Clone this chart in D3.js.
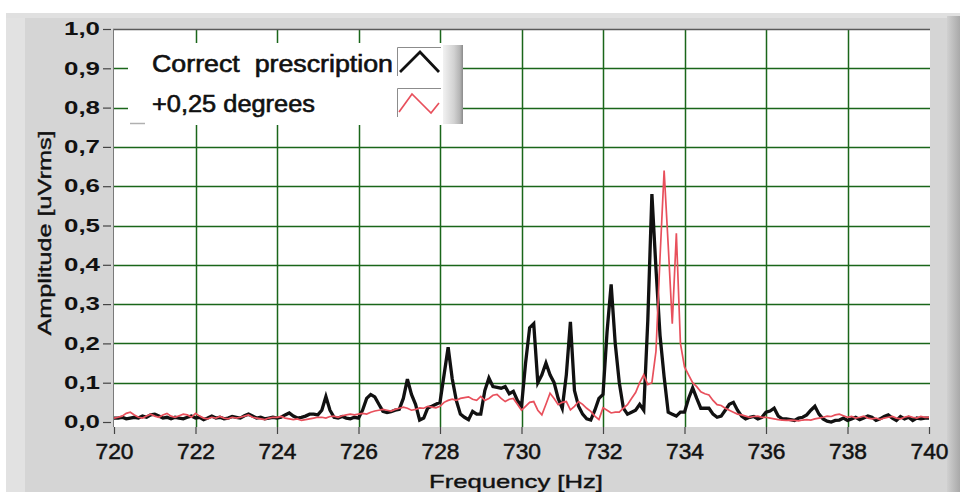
<!DOCTYPE html>
<html>
<head>
<meta charset="utf-8">
<script src="https://cdn.jsdelivr.net/npm/d3@7"></script>
<style>
  html, body { margin: 0; padding: 0; background: #ffffff; }
  svg { display: block; }
  text { font-family: "Liberation Sans", Arial, sans-serif; fill: #111; }
</style>
</head>
<body>
<svg id="chart" width="960" height="492"></svg>
<script>
// ---------------- DATA ----------------
const freqStart = 720;          // Hz, first sample
const freqStep = 0.1;           // Hz between samples
const seriesNames = ["Correct  prescription", "+0,25 degrees"];

// Amplitude [uVrms], one value per 0.1 Hz from 720.0 to 740.0
const correctPrescription = [
  0.01,0.01,0.012,0.008,0.01,0.012,0.01,0.015,0.012,0.018,
  0.02,0.015,0.01,0.012,0.008,0.012,0.01,0.008,0.012,0.015,
  0.01,0.012,0.006,0.01,0.015,0.01,0.012,0.008,0.01,0.014,
  0.012,0.01,0.016,0.02,0.015,0.01,0.012,0.008,0.01,0.012,
  0.01,0.012,0.018,0.023,0.015,0.01,0.012,0.015,0.02,0.02,
  0.018,0.03,0.065,0.03,0.012,0.01,0.014,0.01,0.008,0.012,
  0.01,0.03,0.06,0.07,0.064,0.045,0.027,0.024,0.026,0.03,
  0.032,0.06,0.109,0.07,0.045,0.005,0.01,0.036,0.04,0.045,
  0.05,0.12,0.19,0.11,0.055,0.02,0.012,0.006,0.027,0.02,
  0.02,0.08,0.112,0.09,0.088,0.086,0.09,0.072,0.078,0.055,
  0.04,0.15,0.24,0.25,0.1,0.12,0.15,0.12,0.1,0.06,
  0.035,0.12,0.255,0.08,0.04,0.02,0.008,0.005,0.03,0.06,
  0.07,0.23,0.35,0.2,0.1,0.035,0.02,0.025,0.03,0.045,
  0.03,0.26,0.58,0.39,0.22,0.115,0.025,0.02,0.015,0.025,
  0.025,0.06,0.087,0.06,0.035,0.035,0.035,0.02,0.012,0.015,
  0.03,0.045,0.05,0.03,0.015,0.008,0.012,0.014,0.008,0.012,
  0.025,0.028,0.035,0.015,0.008,0.008,0.006,0.004,0.01,0.012,
  0.018,0.03,0.04,0.02,0.008,0.002,0.0,0.004,0.005,0.01,
  0.004,0.008,0.012,0.006,0.01,0.015,0.012,0.004,0.008,0.014,
  0.018,0.01,0.004,0.014,0.008,0.012,0.004,0.01,0.008,0.01,
  0.01
];

const plus025Degrees = [
  0.01,0.012,0.015,0.022,0.025,0.018,0.012,0.01,0.015,0.02,
  0.015,0.012,0.018,0.022,0.015,0.012,0.016,0.02,0.018,0.012,
  0.022,0.015,0.01,0.008,0.012,0.01,0.014,0.01,0.008,0.012,
  0.01,0.012,0.015,0.018,0.012,0.01,0.008,0.006,0.01,0.012,
  0.012,0.014,0.01,0.008,0.006,0.008,0.004,0.006,0.008,0.01,
  0.012,0.012,0.01,0.014,0.015,0.012,0.016,0.018,0.02,0.018,
  0.02,0.022,0.02,0.025,0.028,0.03,0.032,0.03,0.028,0.032,
  0.035,0.038,0.035,0.03,0.032,0.036,0.035,0.04,0.038,0.036,
  0.04,0.05,0.055,0.058,0.055,0.06,0.062,0.064,0.058,0.055,
  0.065,0.055,0.06,0.068,0.07,0.06,0.052,0.058,0.06,0.045,
  0.03,0.04,0.05,0.052,0.03,0.018,0.045,0.073,0.06,0.044,
  0.05,0.052,0.031,0.04,0.052,0.045,0.035,0.027,0.015,0.006,
  0.036,0.03,0.023,0.025,0.025,0.035,0.044,0.06,0.075,0.1,
  0.12,0.095,0.1,0.18,0.42,0.64,0.45,0.25,0.48,0.2,
  0.14,0.12,0.1,0.09,0.077,0.072,0.069,0.055,0.044,0.042,
  0.035,0.03,0.025,0.02,0.018,0.015,0.012,0.014,0.015,0.012,
  0.012,0.01,0.008,0.006,0.005,0.004,0.005,0.004,0.003,0.005,
  0.006,0.005,0.008,0.01,0.012,0.015,0.014,0.018,0.02,0.016,
  0.012,0.014,0.01,0.012,0.015,0.01,0.008,0.01,0.006,0.01,
  0.012,0.014,0.01,0.008,0.012,0.015,0.012,0.01,0.014,0.012,
  0.012
];

const xTickValues = [720,722,724,726,728,730,732,734,736,738,740];
const xTickLabels = ["720","722","724","726","728","730","732","734","736","738","740"];
const yTickValues = [0,0.1,0.2,0.3,0.4,0.5,0.6,0.7,0.8,0.9,1.0];
const yTickLabels = ["0,0","0,1","0,2","0,3","0,4","0,5","0,6","0,7","0,8","0,9","1,0"];
const xTitle = "Frequency [Hz]";
const yTitle = "Amplitude [uVrms]";

// ---------------- LAYOUT ----------------
const W = 960, H = 492;
const plot = { left: 113, right: 930, top: 29, bottom: 427 };
const svg = d3.select("#chart");

const x = d3.scaleLinear().domain([720, 740]).range([114, 929]);
const y = d3.scaleLinear().domain([0, 1]).range([422, 29]);

// gradients
const defs = svg.append("defs");
const gRight = defs.append("linearGradient").attr("id", "rightBevel").attr("x1", "0").attr("x2", "1");
gRight.append("stop").attr("offset", "0").attr("stop-color", "#d0d0d0");
gRight.append("stop").attr("offset", "1").attr("stop-color", "#a9a9a9");
const gLeg = defs.append("linearGradient").attr("id", "legBevel").attr("x1", "0").attr("x2", "1");
gLeg.append("stop").attr("offset", "0").attr("stop-color", "#f2f2f2");
gLeg.append("stop").attr("offset", "0.55").attr("stop-color", "#d2d2d2");
gLeg.append("stop").attr("offset", "0.85").attr("stop-color", "#b4b4b4");
gLeg.append("stop").attr("offset", "1").attr("stop-color", "#8a8a8a");

// background panel
svg.append("rect").attr("width", W).attr("height", H).attr("fill", "#ffffff");
svg.append("rect").attr("x", 6).attr("y", 13).attr("width", W - 6).attr("height", H - 13).attr("fill", "#d5d5d5");
svg.append("rect").attr("x", 6).attr("y", 13).attr("width", 19).attr("height", H - 13).attr("fill", "#e2e2e2");
svg.append("rect").attr("x", 6).attr("y", 13).attr("width", W - 6).attr("height", 5).attr("fill", "#e0e0e0");
svg.append("rect").attr("x", 947).attr("y", 16).attr("width", 13).attr("height", H - 16).attr("fill", "url(#rightBevel)");

// plot area
svg.append("rect")
  .attr("x", plot.left).attr("y", plot.top)
  .attr("width", plot.right - plot.left).attr("height", plot.bottom - plot.top)
  .attr("fill", "#ffffff");

// grid
const gridColor = "#1a661a";
svg.append("g").selectAll("line")
  .data(yTickValues.filter(v => v > 0 && v < 1))
  .join("line")
  .attr("x1", plot.left).attr("x2", plot.right)
  .attr("y1", d => Math.round(y(d)) + 0.5).attr("y2", d => Math.round(y(d)) + 0.5)
  .attr("stroke", gridColor).attr("stroke-width", 1.5);
svg.append("g").selectAll("line")
  .data(xTickValues.filter(v => v > 720 && v < 740))
  .join("line")
  .attr("x1", d => Math.round(x(d)) + 0.5).attr("x2", d => Math.round(x(d)) + 0.5)
  .attr("y1", plot.top).attr("y2", plot.bottom)
  .attr("stroke", gridColor).attr("stroke-width", 1.5);

// plot borders
svg.append("line").attr("x1", plot.left).attr("x2", plot.right).attr("y1", plot.top + 0.5).attr("y2", plot.top + 0.5)
  .attr("stroke", "#5a5a5a").attr("stroke-width", 1.5);
svg.append("line").attr("x1", plot.left + 0.5).attr("x2", plot.left + 0.5).attr("y1", plot.top).attr("y2", plot.bottom)
  .attr("stroke", "#7a7a7a").attr("stroke-width", 1);

// data lines
const freqOf = i => freqStart + i * freqStep;
const line = d3.line().x((d, i) => x(freqOf(i))).y(d => y(d)).curve(d3.curveLinear);

const plotG = svg.append("g");
plotG.append("path").datum(correctPrescription).attr("d", line)
  .attr("fill", "none").attr("stroke", "#111111").attr("stroke-width", 3.3).attr("stroke-linejoin", "miter");
plotG.append("path").datum(plus025Degrees).attr("d", line)
  .attr("fill", "none").attr("stroke", "#e8505c").attr("stroke-width", 1.7).attr("stroke-linejoin", "miter");

// axes
const yAxis = d3.axisLeft(y).tickValues(yTickValues)
  .tickFormat((d, i) => yTickLabels[i]).tickSize(8).tickPadding(3);
const yAxisG = svg.append("g").attr("transform", "translate(111,0)").call(yAxis);
yAxisG.select(".domain").remove();
yAxisG.selectAll(".tick line").attr("stroke", "#444").attr("stroke-width", 1.2);
yAxisG.selectAll(".tick text")
  .style("font-size", "18px").style("font-weight", "bold")
  .style("font-family", "'Liberation Sans', Arial, sans-serif")
  .attr("fill", "#111")
  .attr("textLength", 36).attr("lengthAdjust", "spacingAndGlyphs");

const xAxis = d3.axisBottom(x).tickValues(xTickValues)
  .tickFormat((d, i) => xTickLabels[i]).tickSize(7).tickPadding(9);
const xAxisG = svg.append("g").attr("transform", `translate(0,${plot.bottom})`).call(xAxis);
xAxisG.select(".domain").remove();
xAxisG.selectAll(".tick line").attr("stroke", "#444").attr("stroke-width", 1.2);
xAxisG.selectAll(".tick text")
  .style("font-size", "22px").style("font-family", "'Liberation Sans', Arial, sans-serif")
  .attr("fill", "#111").attr("stroke", "#111").attr("stroke-width", 0.5)
  .attr("textLength", 38).attr("lengthAdjust", "spacingAndGlyphs");

// axis titles
svg.append("text").attr("x", 516).attr("y", 488).attr("text-anchor", "middle")
  .style("font-size", "19px").attr("stroke", "#111").attr("stroke-width", 0.4)
  .attr("textLength", 174).attr("lengthAdjust", "spacingAndGlyphs")
  .text(xTitle);
svg.append("text").attr("transform", "translate(51,233) rotate(-90)").attr("text-anchor", "middle")
  .style("font-size", "19px").attr("stroke", "#111").attr("stroke-width", 0.4)
  .attr("textLength", 205).attr("lengthAdjust", "spacingAndGlyphs")
  .text(yTitle);

// legend
const leg = svg.append("g");
leg.append("rect").attr("x", 128).attr("y", 43).attr("width", 316).attr("height", 82).attr("fill", "#ffffff");
leg.append("rect").attr("x", 443).attr("y", 45).attr("width", 20).attr("height", 79).attr("fill", "url(#legBevel)");
leg.append("line").attr("x1", 130).attr("x2", 145).attr("y1", 123.5).attr("y2", 123.5).attr("stroke", "#b0b0b0").attr("stroke-width", 1.5);

const legRows = [
  { name: seriesNames[0], color: "#111111", width: 2.8, textY: 72, boxY: 47,
    pts: [[400, 72], [420, 52], [439, 72]], len: 241 },
  { name: seriesNames[1], color: "#e8505c", width: 1.7, textY: 112, boxY: 88,
    pts: [[399, 112], [412, 94], [431, 113], [439, 103]], len: 163 }
];
legRows.forEach(r => {
  leg.append("text").attr("x", 152).attr("y", r.textY)
    .style("font-size", "23px").style("white-space", "pre")
    .attr("stroke", "#111").attr("stroke-width", 0.6)
    .attr("textLength", r.len).attr("lengthAdjust", "spacingAndGlyphs")
    .text(r.name);
  leg.append("path").attr("d", `M397.5,${r.boxY + 29}V${r.boxY + 0.5}H441`)
    .attr("fill", "none").attr("stroke", "#8c8c8c").attr("stroke-width", 1);
  leg.append("path").attr("d", d3.line()(r.pts))
    .attr("fill", "none").attr("stroke", r.color).attr("stroke-width", r.width);
});
</script>
</body>
</html>
